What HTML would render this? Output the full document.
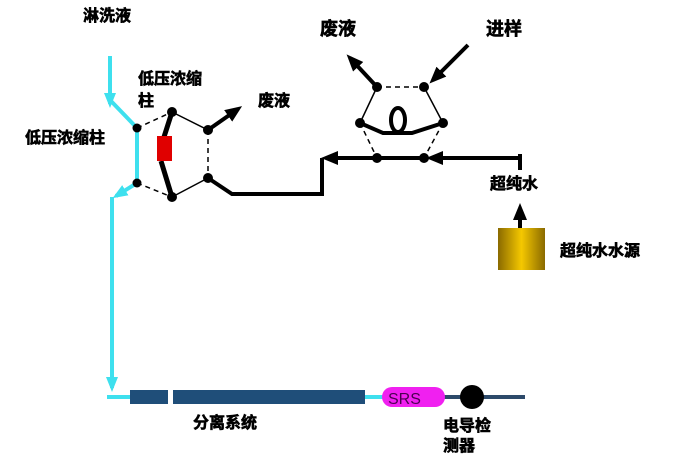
<!DOCTYPE html>
<html><head><meta charset="utf-8"><style>
body{margin:0;background:#fff}
text{font-family:"Liberation Sans","Noto Sans CJK SC",sans-serif;font-weight:bold;fill:#000}
</style></head><body>
<svg width="676" height="458" viewBox="0 0 676 458" xmlns="http://www.w3.org/2000/svg">
<defs>
<marker id="ab" markerWidth="18" markerHeight="16" refX="12" refY="8" orient="auto" markerUnits="userSpaceOnUse"><path d="M0,1 L17,8 L0,15 z" fill="#000"/></marker>
<marker id="ac" markerWidth="16" markerHeight="14" refX="11" refY="7" orient="auto" markerUnits="userSpaceOnUse"><path d="M0,1 L15,7 L0,13 z" fill="#3ee0ee"/></marker>
<linearGradient id="g" x1="0" x2="1"><stop offset="0" stop-color="#8a6a00"/><stop offset="0.5" stop-color="#f5c800"/><stop offset="1" stop-color="#8a6a00"/></linearGradient>
</defs>
<g stroke="#3ee0ee" stroke-width="4" fill="none">
<path d="M110,56 L110,104" marker-end="url(#ac)"/>
<path d="M110,100 L137,128 L137,183 L116,196" marker-end="url(#ac)"/>
<path d="M112,197 L112,388" marker-end="url(#ac)"/>
<path d="M107,397 L132,397 M363,397 L386,397"/>
</g>
<rect x="130" y="390" width="38" height="14" fill="#1f4e79"/>
<rect x="173" y="390" width="192" height="14" fill="#1f4e79"/>
<line x1="440" y1="397" x2="525" y2="397" stroke="#2d4a6a" stroke-width="4"/>
<rect x="382" y="387" width="63" height="20" rx="10" fill="#f020f0"/>
<text x="388" y="404" font-size="16" style="font-weight:normal;fill:#4a0050">SRS</text>
<circle cx="472" cy="397" r="12" fill="#000"/>
<g stroke="#000" fill="none">
<path d="M137,128 L172,112 M137,183 L172,197 M208,130 L208,178" stroke-width="1.5" stroke-dasharray="5,4"/>
<path d="M172,112 L208,130 M172,197 L208,178" stroke-width="1.5"/>
<path d="M172,112 L164,137 M161,161 L172,197" stroke-width="5"/>
<path d="M208,130 L238,109" stroke-width="4" marker-end="url(#ab)"/>
<path d="M208,178 L232,194 L322,194 L322,158" stroke-width="4"/>
<path d="M377,158 L326,158" stroke-width="4" marker-end="url(#ab)"/>
<path d="M377,87 L424,87 M360,123 L377,158 M443,123 L424,158" stroke-width="1.5" stroke-dasharray="5,4"/>
<path d="M377,87 L360,123 M424,87 L443,123" stroke-width="1.5"/>
<path d="M360,123 L383,133 L412,133 L443,123 M377,158 L424,158" stroke-width="4"/>
<ellipse cx="398" cy="120" rx="7" ry="12" stroke-width="4"/>
<path d="M520,158 L431,158" stroke-width="4" marker-end="url(#ab)"/>
<path d="M520,154 L520,170" stroke-width="4"/>
<path d="M377,87 L350,58" stroke-width="4" marker-end="url(#ab)"/>
<path d="M468,45 L433,80" stroke-width="4" marker-end="url(#ab)"/>
<path d="M520,228 L520,208" stroke-width="4" marker-end="url(#ab)"/>
</g>
<rect x="157" y="136" width="15" height="25" fill="#e00000"/>
<g fill="#000">
<circle cx="137" cy="128" r="4.5"/><circle cx="137" cy="183" r="4.5"/>
<circle cx="172" cy="112" r="5"/><circle cx="172" cy="197" r="5"/>
<circle cx="208" cy="130" r="5"/><circle cx="208" cy="178" r="5"/>
<circle cx="377" cy="87" r="5"/><circle cx="424" cy="87" r="5"/>
<circle cx="360" cy="123" r="5"/><circle cx="443" cy="123" r="5"/>
<circle cx="377" cy="158" r="5"/><circle cx="424" cy="158" r="5"/>
</g>
<rect x="498" y="228" width="47" height="42" fill="url(#g)"/>
<g stroke="#000" stroke-width="0.6">
<text x="83" y="21" font-size="16">淋洗液</text>
<text x="25" y="143" font-size="16">低压浓缩柱</text>
<text x="138" y="84" font-size="16">低压浓缩</text>
<text x="138" y="106" font-size="16">柱</text>
<text x="258" y="106" font-size="16">废液</text>
<text x="320" y="35" font-size="18">废液</text>
<text x="486" y="35" font-size="18">进样</text>
<text x="490" y="189" font-size="16">超纯水</text>
<text x="560" y="256" font-size="16">超纯水水源</text>
<text x="193" y="428" font-size="16">分离系统</text>
<text x="443" y="431" font-size="16">电导检</text>
<text x="443" y="451" font-size="16">测器</text>
</g>
</svg>
</body></html>
